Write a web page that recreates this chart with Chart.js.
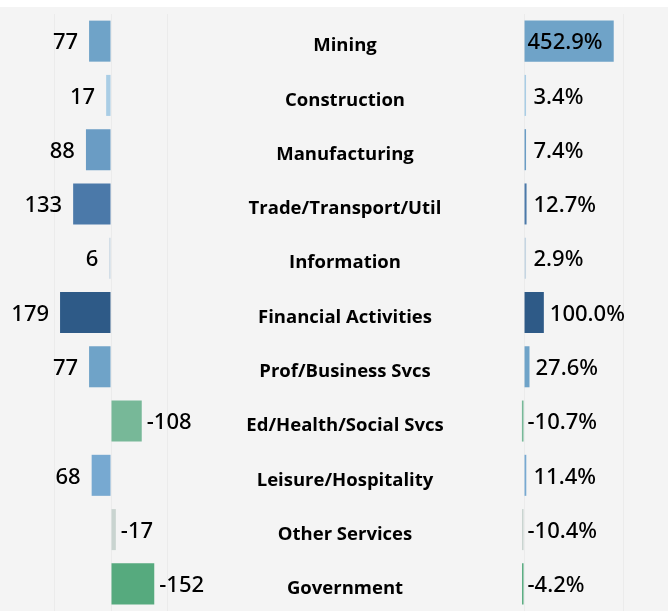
<!DOCTYPE html>
<html>
<head>
<meta charset="utf-8">
<script src="https://cdn.jsdelivr.net/npm/chart.js@4/dist/chart.umd.min.js"></script>
<style>
  html, body { margin: 0; padding: 0; background: #fff; }
  canvas { display: block; }
</style>
</head>
<body>
<canvas id="chart" width="668" height="611"></canvas>
<script>
// Industry rows, top to bottom
const industries = [
    'Mining', 'Construction', 'Manufacturing', 'Trade/Transport/Util', 'Information',
    'Financial Activities', 'Prof/Business Svcs', 'Ed/Health/Social Svcs',
    'Leisure/Hospitality', 'Other Services', 'Government'
];
// left panel: change (count)
const changeValues = [77, 17, 88, 133, 6, 179, 77, -108, 68, -17, -152];
// right panel: percent change
const pctValues = [452.9, 3.4, 7.4, 12.7, 2.9, 100.0, 27.6, -10.7, 11.4, -10.4, -4.2];
// bar colours per row
const rowColors = [
    '#6fa3c8', '#a9cde5', '#6a9cc4', '#4b79a9', '#c5d5e2',
    '#2e5a87', '#6fa3c8', '#77b898', '#77a9d1', '#c9d4d0', '#56aa7e'
];
// grid lines
const leftTicks = [-200, 0, 200];
const rightTicks = [0, 500];

const valueFont = '500 22px "Noto Sans", sans-serif';
const labelFont = 'bold 18.5px "Open Sans", sans-serif';

// background: white strip on top, light grey panel below
const backgroundPlugin = {
    id: 'background',
    beforeDraw(chart) {
        const ctx = chart.ctx;
        ctx.save();
        ctx.fillStyle = '#ffffff';
        ctx.fillRect(0, 0, chart.width, chart.height);
        ctx.fillStyle = '#f4f4f4';
        ctx.fillRect(0, 7, chart.width, chart.height - 7);
        ctx.restore();
    }
};

// value labels next to bars and the category names in the middle
const labelsPlugin = {
    id: 'labels',
    afterDatasetsDraw(chart) {
        const ctx = chart.ctx;
        ctx.save();
        ctx.fillStyle = '#000000';
        ctx.textBaseline = 'middle';

        // left panel
        ctx.font = valueFont;
        chart.getDatasetMeta(0).data.forEach((bar, i) => {
            const v = changeValues[i];
            if (v >= 0) {
                ctx.textAlign = 'right';
                ctx.fillText(String(v), bar.x - 11, bar.y + 2);
            } else {
                ctx.textAlign = 'left';
                ctx.fillText(String(v), bar.x + 5, bar.y + 2);
            }
        });

        // right panel
        const xR = chart.scales.xR;
        chart.getDatasetMeta(1).data.forEach((bar, i) => {
            const v = pctValues[i];
            const txt = v.toFixed(1) + '%';
            ctx.textAlign = 'left';
            const w = ctx.measureText(txt).width;
            let x;
            if (v < 0) {
                x = bar.base + 4;
            } else {
                x = Math.max(bar.x, bar.base + 3) + 6;
                if (x + w > xR.right) x = bar.base + 3;
            }
            ctx.fillText(txt, x, bar.y + 2);
        });

        // category names
        const xM = chart.scales.xM;
        const cx = (xM.left + xM.right) / 2;
        ctx.font = labelFont;
        ctx.textAlign = 'center';
        chart.getDatasetMeta(0).data.forEach((bar, i) => {
            ctx.fillText(industries[i], cx, bar.y + 5);
        });
        ctx.restore();
    }
};

const hiddenTicks = { display: false };
const gridStyle = { color: '#ebebeb', lineWidth: 1, drawTicks: false };

new Chart(document.getElementById('chart'), {
    type: 'bar',
    data: {
        labels: industries,
        datasets: [{
            label: 'Change',
            data: changeValues,
            xAxisID: 'xL',
            backgroundColor: rowColors,
            grouped: false,
            barPercentage: 0.756,
            categoryPercentage: 1,
            minBarLength: 1.5
        }, {
            label: 'Percent change',
            data: pctValues,
            xAxisID: 'xR',
            backgroundColor: rowColors,
            grouped: false,
            barPercentage: 0.756,
            categoryPercentage: 1,
            minBarLength: 2
        }]
    },
    options: {
        indexAxis: 'y',
        responsive: false,
        animation: false,
        devicePixelRatio: 1,
        layout: { padding: { top: 14, left: 0, right: 0, bottom: 0 } },
        plugins: {
            legend: { display: false },
            tooltip: { enabled: false }
        },
        scales: {
            y: {
                display: false
            },
            xL: {
                type: 'linear',
                position: 'bottom',
                stack: 'panels',
                stackWeight: 222,
                reverse: true,
                min: -390,
                max: 390,
                ticks: hiddenTicks,
                border: { display: false },
                grid: gridStyle,
                afterBuildTicks: s => { s.ticks = leftTicks.map(v => ({ value: v })); }
            },
            xM: {
                type: 'linear',
                position: 'bottom',
                stack: 'panels',
                stackWeight: 246,
                min: 0,
                max: 1,
                ticks: hiddenTicks,
                border: { display: false },
                grid: { display: false, drawTicks: false }
            },
            xR: {
                type: 'linear',
                position: 'bottom',
                stack: 'panels',
                stackWeight: 200,
                min: -283,
                max: 727,
                ticks: hiddenTicks,
                border: { display: false },
                grid: gridStyle,
                afterBuildTicks: s => { s.ticks = rightTicks.map(v => ({ value: v })); }
            }
        }
    },
    plugins: [backgroundPlugin, labelsPlugin]
});
</script>
</body>
</html>
